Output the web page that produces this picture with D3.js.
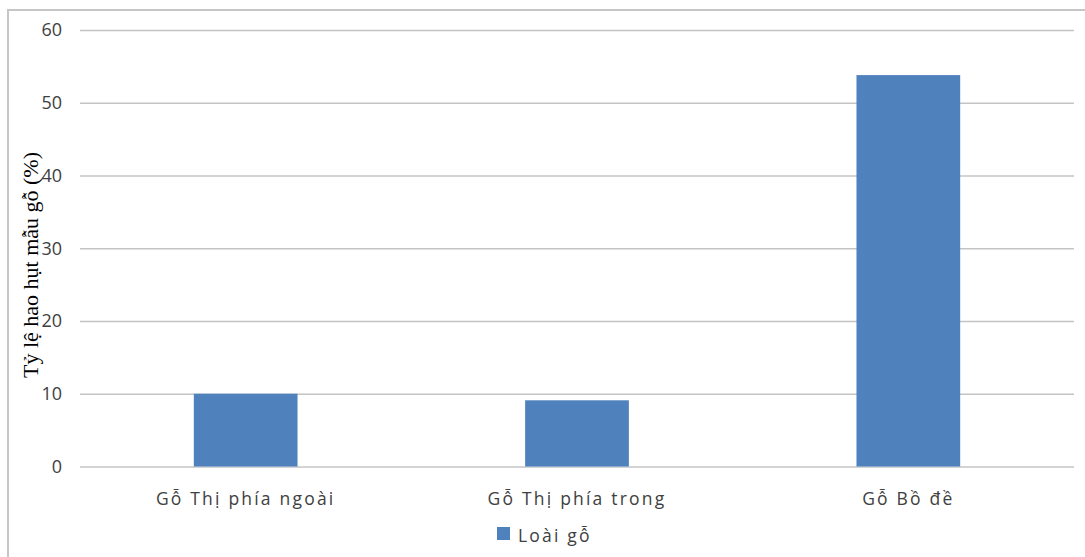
<!DOCTYPE html>
<html><head><meta charset="utf-8">
<script src="https://cdn.jsdelivr.net/npm/d3@7/dist/d3.min.js"></script>
<style>body{margin:0;background:#fff}svg{display:block}</style>
</head><body><svg id="c" width="1085" height="557"></svg>
<script>
const categories = ["Gỗ Thị phía ngoài", "Gỗ Thị phía trong", "Gỗ Bồ đề"];
const values = [10, 9.1, 53.8];
const yTicks = [0, 10, 20, 30, 40, 50, 60];
const seriesName = "Loài gỗ";
const yTitle = "Tỷ lệ hao hụt mẫu gỗ (%)";

const svg = d3.select("#c");
const W = 1085, H = 557;
const m = {left: 80, right: 11, top: 30, bottom: 90.5};
const x = d3.scaleBand().domain(categories).range([m.left, W - m.right]).paddingInner(0).paddingOuter(0);
const y = d3.scaleLinear().domain([0, 60]).range([H - m.bottom, m.top]);

// outer border
svg.append("path").attr("d", `M8,${H+2}V10H${W+2}`).attr("fill","none").attr("stroke","#c6c6c6").attr("stroke-width",2);

// gridlines
const gAxis = svg.append("g").attr("transform", `translate(${m.left},0)`)
  .call(d3.axisLeft(y).tickValues(yTicks).tickSize(-(W - m.right - m.left)).tickPadding(18).tickFormat(d3.format("d")));
gAxis.select(".domain").remove();
gAxis.selectAll(".tick line").attr("stroke","#c4c4c4").attr("stroke-width",1.5);
gAxis.selectAll(".tick text").attr("fill","#404040").style("font-family","'Open Sans', sans-serif").style("font-size","18px");

// bars
const bw = x.bandwidth() * 0.313;
svg.append("g").selectAll("rect").data(values).join("rect")
  .attr("x", (d,i) => x(categories[i]) + x.bandwidth()/2 - bw/2)
  .attr("width", bw)
  .attr("y", d => y(d))
  .attr("height", d => y(0) - y(d))
  .attr("fill", "#4f81bd");

// category labels
const xa = svg.append("g").attr("transform", `translate(0,${y(0)})`)
  .call(d3.axisBottom(x).tickSize(0).tickPadding(26));
xa.select(".domain").remove();
xa.selectAll(".tick text").attr("fill","#404040").style("font-family","'Open Sans', sans-serif").style("font-size","17.5px").style("letter-spacing","2.2px");

// legend
const lg = svg.append("g");
lg.append("rect").attr("x",497).attr("y",527).attr("width",13).attr("height",13).attr("fill","#4f81bd");
lg.append("text").attr("x",518).attr("y",542).text(seriesName).attr("fill","#404040")
  .style("font-family","'Open Sans', sans-serif").style("font-size","17.5px").style("letter-spacing","2.2px");

// y title
svg.append("text").attr("transform","translate(38,265) rotate(-90)").attr("text-anchor","middle")
  .text(yTitle).attr("fill","#000").style("font-family","'Liberation Serif', serif").style("font-size","22px");
</script></body></html>
